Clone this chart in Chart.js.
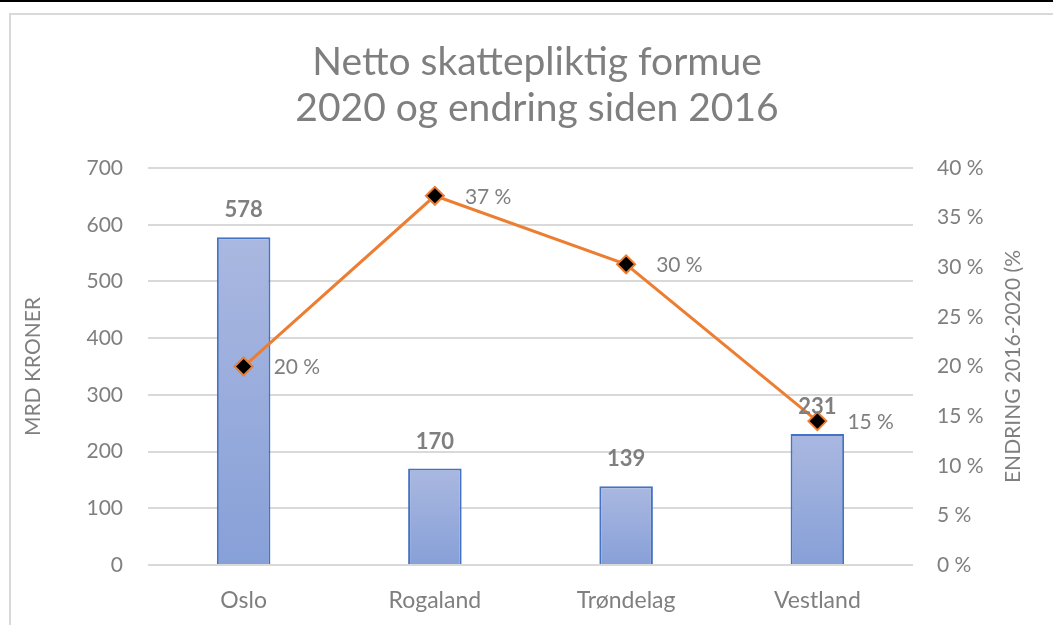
<!DOCTYPE html>
<html>
<head>
<meta charset="utf-8">
<script src="https://cdn.jsdelivr.net/npm/chart.js@4"></script>
<style>
    html, body { margin: 0; padding: 0; background: #fff; overflow: hidden; }
    .topline { position: absolute; left: 0; top: 0; width: 1053px; height: 2px; background: #000; }
    .frame { position: absolute; left: 9px; top: 13px; width: 1100px; height: 700px;
             border-left: 2px solid #d9d9d9; border-top: 2px solid #d9d9d9; }
    .wrap { position: absolute; left: 0; top: 0; width: 1053px; height: 625px; }
</style>
</head>
<body>
<div class="topline"></div>
<div class="frame"></div>
<div class="wrap"><canvas id="chart" width="1053" height="625"></canvas></div>
<script>
// Data
const regions = ['Oslo', 'Rogaland', 'Trøndelag', 'Vestland'];
const formue = [578, 170, 139, 231];          // mrd kroner
const endring = [20.0, 37.2, 30.3, 14.5];     // prosent 2016-2020
const titleLines = ['Netto skattepliktig formue', '2020 og endring siden 2016'];
const leftTitle = 'MRD KRONER';
const rightTitle = 'ENDRING 2016-2020 (%';

const FONT = 'Lato, "Open Sans", sans-serif';
const GRAY = '#7f7f7f';

// Per-bar vertical gradient
function barGradient(ctx) {
    const chart = ctx.chart;
    if (!chart.chartArea || ctx.raw === undefined) return '#97abdc';
    const y = chart.scales.y;
    const top = y.getPixelForValue(ctx.raw);
    const bottom = y.getPixelForValue(0);
    const g = chart.ctx.createLinearGradient(0, top, 0, bottom);
    g.addColorStop(0, '#aab8e0');
    g.addColorStop(1, '#87a0d8');
    return g;
}

// Title, value labels and rotated axis titles
const labelPlugin = {
    id: 'labels',
    afterDraw(chart) {
        const c = chart.ctx;
        c.save();
        c.fillStyle = GRAY;

        // title (built-in title only reserves the space)
        c.font = '39px ' + FONT;
        c.textAlign = 'center';
        c.textBaseline = 'middle';
        titleLines.forEach((t, i) => c.fillText(t, 537, 62 + i * 46));

        // bar labels
        c.font = 'bold 22px ' + FONT;
        chart.getDatasetMeta(1).data.forEach((el, i) => {
            c.fillText(String(formue[i]), el.x, el.y - 27);
        });

        // line labels
        c.font = '21px ' + FONT;
        c.textAlign = 'left';
        chart.getDatasetMeta(0).data.forEach((el, i) => {
            c.fillText(Math.round(endring[i]) + ' %', el.x + 30, el.y + 1);
        });

        // axis titles (both read bottom to top)
        c.font = '21px ' + FONT;
        c.textAlign = 'center';
        const midY = (chart.chartArea.top + chart.chartArea.bottom) / 2;
        [[33, leftTitle], [1013, rightTitle]].forEach(([x, t]) => {
            c.save();
            c.translate(x, midY);
            c.rotate(-Math.PI / 2);
            c.fillText(t, 0, 0);
            c.restore();
        });
        c.restore();
    }
};

const ctx = document.getElementById('chart').getContext('2d');
new Chart(ctx, {
    data: {
        labels: regions,
        datasets: [{
            type: 'line',
            label: 'Endring',
            data: endring,
            yAxisID: 'y2',
            order: 0,
            borderColor: '#ed7d31',
            borderWidth: 3,
            tension: 0,
            pointStyle: 'rectRot',
            pointRadius: 9,
            pointHoverRadius: 9,
            pointBackgroundColor: '#000',
            pointBorderColor: '#ed7d31',
            pointBorderWidth: 2
        }, {
            type: 'bar',
            label: 'Formue',
            data: formue,
            yAxisID: 'y',
            order: 1,
            backgroundColor: barGradient,
            borderColor: '#4472c4',
            borderWidth: 2,
            borderSkipped: 'bottom',
            categoryPercentage: 1,
            barPercentage: 0.28
        }]
    },
    options: {
        responsive: false,
        animation: false,
        layout: { padding: 0 },
        plugins: {
            legend: { display: false },
            tooltip: { enabled: false },
            title: {
                display: true,
                text: titleLines,
                color: 'rgba(0,0,0,0)',
                font: { family: FONT, size: 39, weight: 'normal', lineHeight: 1.18 },
                padding: { top: 39, bottom: 37 }
            }
        },
        scales: {
            x: {
                grid: { display: false },
                border: { display: false },
                ticks: { color: GRAY, font: { family: FONT, size: 23 }, padding: 14 },
                afterFit(scale) { scale.height = 60; }
            },
            y: {
                position: 'left',
                min: 0,
                max: 700,
                ticks: { stepSize: 100, color: GRAY, font: { family: FONT, size: 21 }, padding: 25 },
                grid: { color: '#d9d9d9', lineWidth: 2, drawTicks: false },
                border: { display: false },
                afterFit(scale) { scale.width = 148; }
            },
            y2: {
                position: 'right',
                min: 0,
                max: 40,
                ticks: {
                    stepSize: 5,
                    color: GRAY,
                    font: { family: FONT, size: 21 },
                    padding: 24,
                    callback: v => v + ' %'
                },
                grid: { display: false, drawTicks: false },
                border: { display: false },
                afterFit(scale) { scale.width = 140; }
            }
        }
    },
    plugins: [labelPlugin]
});
</script>
</body>
</html>
